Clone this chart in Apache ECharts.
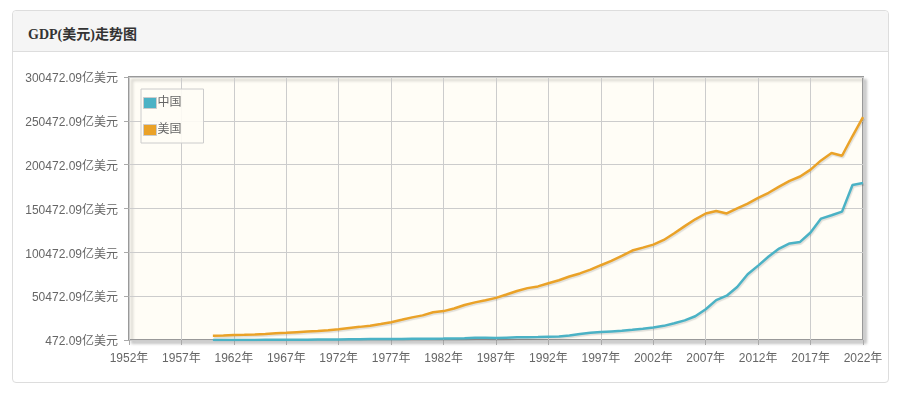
<!DOCTYPE html>
<html>
<head>
<meta charset="utf-8">
<script src="https://cdn.jsdelivr.net/npm/echarts@6/dist/echarts.min.js"></script>
<style>
  html, body { margin: 0; padding: 0; background: #fff; width: 902px; height: 396px; overflow: hidden; }
  .panel { position: absolute; left: 12px; top: 10px; width: 875px; height: 371px; border: 1px solid #ddd; border-radius: 4px; background: #fff; }
  .head { position: absolute; left: 0; top: 0; right: 0; height: 40px; background: #f5f5f5; border-bottom: 1px solid #ddd; border-radius: 4px 4px 0 0; }
  .head span { position: absolute; left: 15px; top: 12px; font: bold 14px "Liberation Serif", "Noto Sans CJK SC", serif; color: #333; }
  #chart { position: absolute; left: 13px; top: 52px; width: 874px; height: 329px; }
</style>
</head>
<body>
<div class="panel"><div class="head"><span>GDP(美元)走势图</span></div></div>
<div id="chart"></div>
<script>
// Years (x values)
const years = [1960,1961,1962,1963,1964,1965,1966,1967,1968,1969,1970,1971,1972,1973,1974,1975,1976,1977,1978,1979,1980,1981,1982,1983,1984,1985,1986,1987,1988,1989,1990,1991,1992,1993,1994,1995,1996,1997,1998,1999,2000,2001,2002,2003,2004,2005,2006,2007,2008,2009,2010,2011,2012,2013,2014,2015,2016,2017,2018,2019,2020,2021,2022];
// GDP, 亿美元
const chinaGDP = [597,501,472,507,597,704,767,729,708,797,926,998,1137,1385,1442,1634,1539,1749,1495,1783,1911,1959,2051,2307,2599,3095,3008,2729,3124,3478,3610,3834,4269,4447,5643,7345,8637,9616,10290,10940,12113,13394,14706,16603,19553,22860,27521,35503,45943,51017,60872,75515,85322,95704,104757,110616,112333,123104,138948,142799,146877,177341,179632];
const usaGDP = [5433,5633,6051,6386,6858,7437,8150,8617,9425,10199,10733,11649,12791,14254,15452,16849,18734,20818,23516,26273,28573,32070,33438,36340,40376,43390,45796,48552,52364,56416,59631,61581,65203,68586,72872,76397,80731,85776,90628,96312,102510,105819,109291,114565,122172,130392,138156,144742,147699,144781,150490,155997,162540,168432,175507,182060,186951,194773,205331,213809,210605,233151,254627];
// Y-axis tick labels start at this value (亿美元), step 50000
const yBase = 472.09;
const yStep = 50000;
const yTop = 300000;
const xTickYears = [1952, 2022, 5];

const seriesNames = ['中国', '美国'];
const colors = ['#4bb2c5', '#eaa228'];

const toPairs = arr => years.map((y, i) => [y, arr[i] - yBase]);

const chart = echarts.init(document.getElementById('chart'), null, { renderer: 'canvas' });
const fontFamily = '"Liberation Sans", Arial, "Noto Sans CJK SC", sans-serif';

chart.setOption({
  animation: false,
  color: colors,
  grid: {
    left: 116, top: 25, width: 734, height: 263,
    show: true,
    backgroundColor: '#fffdf6',
    borderColor: '#999999',
    borderWidth: 2,
    shadowColor: 'rgba(0,0,0,0.18)',
    shadowBlur: 3,
    shadowOffsetX: 3,
    shadowOffsetY: 3,
    containLabel: false
  },
  legend: {
    orient: 'vertical',
    left: 128, top: 37,
    data: seriesNames,
    icon: 'rect',
    itemWidth: 13,
    itemHeight: 11,
    itemGap: 15,
    padding: [8, 22, 7, 2],
    borderColor: '#cccccc',
    borderWidth: 1,
    backgroundColor: 'rgba(255,253,246,0.9)',
    textStyle: { color: '#666', fontSize: 12, fontFamily: fontFamily, padding: [0, 0, 0, -4] },
    itemStyle: { borderColor: '#cccccc', borderWidth: 1 }
  },
  xAxis: {
    type: 'value',
    min: xTickYears[0], max: xTickYears[1], interval: xTickYears[2],
    axisLine: { show: false },
    axisTick: { show: true, length: 5, lineStyle: { color: '#aaa' } },
    splitLine: { show: true, lineStyle: { color: '#cccccc', width: 1 } },
    axisLabel: {
      color: '#666', fontSize: 12, fontFamily: fontFamily, margin: 13,
      formatter: v => v + '年',
      showMinLabel: true, showMaxLabel: true
    }
  },
  yAxis: {
    type: 'value',
    min: 0, max: yTop, interval: yStep,
    axisLine: { show: false },
    axisTick: { show: true, length: 5, lineStyle: { color: '#aaa' } },
    splitLine: { show: true, lineStyle: { color: '#cccccc', width: 1 } },
    axisLabel: {
      color: '#666', fontSize: 12, fontFamily: fontFamily, margin: 11,
      formatter: v => '{a|' + (v + yBase).toFixed(2) + '亿美元}',
      rich: { a: { color: '#666', fontSize: 12, fontFamily: fontFamily, padding: [4, 0, 0, 0] } }
    }
  },
  series: [
    {
      name: seriesNames[0], type: 'line', data: toPairs(chinaGDP),
      showSymbol: false, symbol: 'none',
      lineStyle: { width: 2.5, shadowColor: 'rgba(0,0,0,0.12)', shadowOffsetX: 1, shadowOffsetY: 1.5, shadowBlur: 1 }
    },
    {
      name: seriesNames[1], type: 'line', data: toPairs(usaGDP),
      showSymbol: false, symbol: 'none',
      lineStyle: { width: 2.5, shadowColor: 'rgba(0,0,0,0.12)', shadowOffsetX: 1, shadowOffsetY: 1.5, shadowBlur: 1 }
    }
  ]
});
</script>
</body>
</html>
